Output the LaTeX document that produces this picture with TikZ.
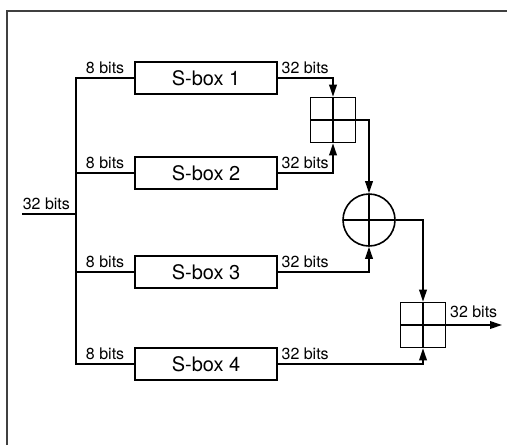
\documentclass[tikz,border=0pt]{standalone}
\usepackage{fontspec}
\setmainfont{TeX Gyre Heros}
\usetikzlibrary{arrows.meta}

\tikzset{
  sbox/.style={rectangle, draw, minimum width=71pt, minimum height=16pt, inner sep=0pt, font=\fontsize{10}{12}\selectfont},
  crossed/.style={path picture={\draw (path picture bounding box.north) -- (path picture bounding box.south)
                                      (path picture bounding box.west) -- (path picture bounding box.east);}},
  addbox/.style={rectangle, draw, minimum size=22.5pt, inner sep=0pt, crossed},
  xorop/.style={circle, draw, minimum size=26pt, inner sep=0pt, crossed},
  bits/.style={font=\fontsize{8}{9.6}\selectfont, inner sep=1.5pt}
}

\begin{document}
\begin{tikzpicture}[x=0.5pt, y=-0.5pt, line width=0.8pt, >={Triangle[length=6pt, width=3.8pt]}]
    \useasboundingbox (0,0) rectangle (507,445);
    % frame
    \draw [black!75, line width=0.6pt] (7,445) -- (7,11) -- (507,11);

    % s-boxes
    \node [sbox] (sbox1) at (206, 78) {S-box 1};
    \node [sbox] (sbox2) at (206, 173) {S-box 2};
    \node [sbox] (sbox3) at (206, 272) {S-box 3};
    \node [sbox] (sbox4) at (206, 364) {S-box 4};

    % combining operations
    \node [addbox] (add1) at (333, 120) {};
    \node [xorop] (xor) at (369, 220) {};
    \node [addbox] (add2) at (423, 325) {};

    \coordinate (in) at (22, 214);
    \coordinate (split) at (76, 214);
    \coordinate (out) at (502, 325);

    % input and split
    \draw (in) -- (split);
    \node [bits, anchor=south west, xshift=-1.5pt] (inbits) at (in) {32 bits};
    \draw (split) |- node [bits, above, pos=0.75] (bits1) {8 bits} (sbox1.west);
    \draw (split) |- node [bits, above, pos=0.75] (bits2) {8 bits} (sbox2.west);
    \draw (split) |- node [bits, above, pos=0.75] (bits3) {8 bits} (sbox3.west);
    \draw (split) |- node [bits, above, pos=0.75] (bits4) {8 bits} (sbox4.west);

    % outputs
    \draw [->] (sbox1.east) -| (add1.north);
    \draw [->] (sbox2.east) -| (add1.south);
    \draw [->] (add1.east) -| (xor.north);
    \draw [->] (sbox3.east) -| (xor.south);
    \draw [->] (xor.east) -| (add2.north);
    \draw [->] (sbox4.east) -| (add2.south);
    \draw [->] (add2.east) -- (out);

    \node [bits, anchor=south west] (obits1) at (sbox1.east) {32 bits};
    \node [bits, anchor=south west] (obits2) at (sbox2.east) {32 bits};
    \node [bits, anchor=south west] (obits3) at (sbox3.east) {32 bits};
    \node [bits, anchor=south west] (obits4) at (sbox4.east) {32 bits};
    \node [bits, anchor=north west] (result) at (add2.north east) {32 bits};
\end{tikzpicture}
\end{document}
